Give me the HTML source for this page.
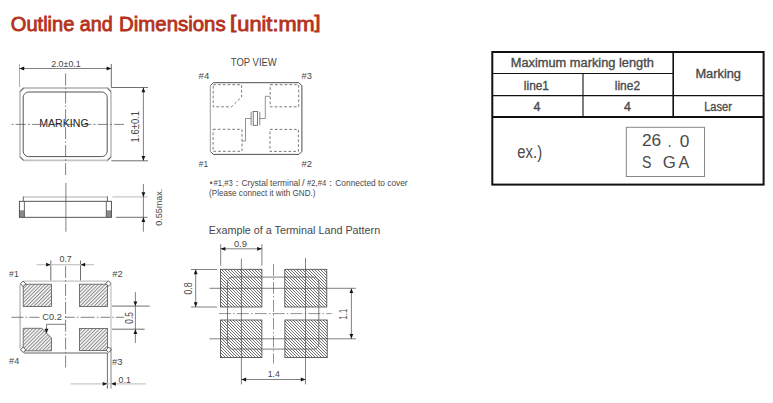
<!DOCTYPE html>
<html><head><meta charset="utf-8"><style>
html,body{margin:0;padding:0;background:#fff;width:773px;height:403px;overflow:hidden}
svg{display:block;font-family:"Liberation Sans", sans-serif}
</style></head><body>
<svg width="773" height="403" viewBox="0 0 773 403">
<defs>
<pattern id="h1" patternUnits="userSpaceOnUse" width="2.5" height="4" patternTransform="rotate(45)">
<rect width="2.5" height="4" fill="#fff"/><line x1="0.6" y1="0" x2="0.6" y2="4" stroke="#555" stroke-width="0.8"/></pattern>
<pattern id="h3" patternUnits="userSpaceOnUse" width="1.4" height="4" patternTransform="rotate(45)">
<rect width="1.4" height="4" fill="#fff"/><line x1="0.5" y1="0" x2="0.5" y2="4" stroke="#444" stroke-width="0.8"/></pattern>
<pattern id="h2" patternUnits="userSpaceOnUse" x="0" y="0" width="3" height="3">
<rect width="3" height="3" fill="#fff"/><rect x="0" y="0" width="1" height="1" fill="#707070"/><rect x="1" y="1" width="1" height="1" fill="#707070"/><rect x="2" y="2" width="1" height="1" fill="#707070"/></pattern>
</defs>
<text x="10.8" y="30.6" font-size="20.8" fill="#b5321c" textLength="63.60" lengthAdjust="spacingAndGlyphs" stroke="#b5321c" stroke-width="0.85">Outline</text>
<text x="79.80000000000001" y="30.6" font-size="20.8" fill="#b5321c" textLength="32.90" lengthAdjust="spacingAndGlyphs" stroke="#b5321c" stroke-width="0.85">and</text>
<text x="119.10000000000001" y="30.6" font-size="20.8" fill="#b5321c" textLength="106.50" lengthAdjust="spacingAndGlyphs" stroke="#b5321c" stroke-width="0.85">Dimensions</text>
<text x="237.3" y="30.6" font-size="20.8" fill="#b5321c" textLength="77.40" lengthAdjust="spacingAndGlyphs" stroke="#b5321c" stroke-width="0.85">unit:mm</text>
<text x="230.0" y="27.6" font-size="18" fill="#b5321c" textLength="6.30" lengthAdjust="spacingAndGlyphs" stroke="#b5321c" stroke-width="0.85">[</text>
<text x="314.40000000000003" y="27.6" font-size="18" fill="#b5321c" textLength="6.00" lengthAdjust="spacingAndGlyphs" stroke="#b5321c" stroke-width="0.85">]</text>
<text x="51.22" y="66.66" font-size="9.80" fill="#484848" textLength="29.55" lengthAdjust="spacingAndGlyphs" >2.0±0.1</text>
<text x="39.21" y="127.48" font-size="11.60" fill="#222" textLength="49.47" lengthAdjust="spacingAndGlyphs" >MARKING</text>
<text x="230.83" y="65.63" font-size="11.60" fill="#484848" textLength="45.92" lengthAdjust="spacingAndGlyphs" >TOP VIEW</text>
<text x="198.62" y="78.53" font-size="9.60" fill="#484848" textLength="10.64" lengthAdjust="spacingAndGlyphs" >#4</text>
<text x="301.57" y="78.72" font-size="9.60" fill="#484848" textLength="10.36" lengthAdjust="spacingAndGlyphs" >#3</text>
<text x="198.83" y="166.73" font-size="9.60" fill="#484848" textLength="9.28" lengthAdjust="spacingAndGlyphs" >#1</text>
<text x="301.49" y="166.51" font-size="9.60" fill="#484848" textLength="10.65" lengthAdjust="spacingAndGlyphs" >#2</text>
<text x="209.75" y="185.60" font-size="8.50" fill="#484848" textLength="2.70" lengthAdjust="spacingAndGlyphs" >•</text>
<text x="213.57" y="185.60" font-size="8.50" fill="#484848" textLength="19.19" lengthAdjust="spacingAndGlyphs" >#1,#3</text>
<text x="235.57" y="185.60" font-size="8.50" fill="#484848" textLength="2.98" lengthAdjust="spacingAndGlyphs" >:</text>
<text x="241.44" y="185.60" font-size="8.50" fill="#484848" textLength="58.78" lengthAdjust="spacingAndGlyphs" >Crystal terminal</text>
<text x="301.94" y="185.60" font-size="8.50" fill="#484848" textLength="2.64" lengthAdjust="spacingAndGlyphs" >/</text>
<text x="307.04" y="185.60" font-size="8.50" fill="#484848" textLength="19.10" lengthAdjust="spacingAndGlyphs" >#2,#4</text>
<text x="329.12" y="185.60" font-size="8.50" fill="#484848" textLength="3.07" lengthAdjust="spacingAndGlyphs" >:</text>
<text x="335.33" y="185.60" font-size="8.50" fill="#484848" textLength="72.32" lengthAdjust="spacingAndGlyphs" >Connected to cover</text>
<text x="209.11" y="196.00" font-size="8.50" fill="#484848" textLength="106.37" lengthAdjust="spacingAndGlyphs" >(Please connect it with GND.)</text>
<text x="208.83" y="233.50" font-size="10.90" fill="#484848" textLength="171.38" lengthAdjust="spacingAndGlyphs" >Example of a Terminal Land Pattern</text>
<text x="233.93" y="246.73" font-size="9.80" fill="#484848" textLength="12.97" lengthAdjust="spacingAndGlyphs" >0.9</text>
<text x="267.77" y="376.60" font-size="9.80" fill="#484848" textLength="12.15" lengthAdjust="spacingAndGlyphs" >1.4</text>
<text x="9.12" y="276.67" font-size="9.60" fill="#484848" textLength="9.58" lengthAdjust="spacingAndGlyphs" >#1</text>
<text x="112.22" y="277.12" font-size="9.60" fill="#484848" textLength="10.38" lengthAdjust="spacingAndGlyphs" >#2</text>
<text x="9.12" y="364.49" font-size="9.60" fill="#484848" textLength="10.06" lengthAdjust="spacingAndGlyphs" >#4</text>
<text x="112.10" y="365.18" font-size="9.60" fill="#484848" textLength="10.45" lengthAdjust="spacingAndGlyphs" >#3</text>
<text x="59.46" y="262.19" font-size="9.80" fill="#484848" textLength="12.35" lengthAdjust="spacingAndGlyphs" >0.7</text>
<text x="42.36" y="320.25" font-size="9.80" fill="#484848" textLength="19.45" lengthAdjust="spacingAndGlyphs" >C0.2</text>
<text x="118.61" y="382.84" font-size="9.80" fill="#484848" textLength="12.16" lengthAdjust="spacingAndGlyphs" >0.1</text>
<text x="0" y="0" font-size="10.00" fill="#484848" text-anchor="middle" textLength="31.40" lengthAdjust="spacingAndGlyphs" transform="translate(138.95,126.72) rotate(-90)" >1.6±0.1</text>
<text x="0" y="0" font-size="9.40" fill="#484848" text-anchor="middle" textLength="37.20" lengthAdjust="spacingAndGlyphs" transform="translate(162.32,207.24) rotate(-90)" >0.55max.</text>
<text x="0" y="0" font-size="10.00" fill="#484848" text-anchor="middle" textLength="11.74" lengthAdjust="spacingAndGlyphs" transform="translate(133.34,317.81) rotate(-90)" >0.5</text>
<text x="0" y="0" font-size="10.20" fill="#484848" text-anchor="middle" textLength="12.25" lengthAdjust="spacingAndGlyphs" transform="translate(191.67,288.46) rotate(-90)" >0.8</text>
<text x="0" y="0" font-size="10.00" fill="#484848" text-anchor="middle" textLength="10.48" lengthAdjust="spacingAndGlyphs" transform="translate(346.61,314.14) rotate(-90)" >1.1</text>
<text x="510.76" y="67.30" font-size="12.50" fill="#4a4a4a" textLength="143.18" lengthAdjust="spacingAndGlyphs" stroke="#4a4a4a" stroke-width="0.35">Maximum marking length</text>
<text x="695.40" y="78.30" font-size="12.50" fill="#4a4a4a" textLength="45.62" lengthAdjust="spacingAndGlyphs" stroke="#4a4a4a" stroke-width="0.35">Marking</text>
<text x="523.87" y="89.60" font-size="12.50" fill="#4a4a4a" textLength="25.14" lengthAdjust="spacingAndGlyphs" stroke="#4a4a4a" stroke-width="0.35">line1</text>
<text x="614.72" y="89.60" font-size="12.50" fill="#4a4a4a" textLength="25.34" lengthAdjust="spacingAndGlyphs" stroke="#4a4a4a" stroke-width="0.35">line2</text>
<text x="533.47" y="111.10" font-size="12.50" fill="#4a4a4a" textLength="6.93" lengthAdjust="spacingAndGlyphs" stroke="#4a4a4a" stroke-width="0.35">4</text>
<text x="624.00" y="111.10" font-size="12.50" fill="#4a4a4a" textLength="6.90" lengthAdjust="spacingAndGlyphs" stroke="#4a4a4a" stroke-width="0.35">4</text>
<text x="704.13" y="111.10" font-size="12.50" fill="#4a4a4a" textLength="27.72" lengthAdjust="spacingAndGlyphs" stroke="#4a4a4a" stroke-width="0.35">Laser</text>
<text x="517.35" y="157.70" font-size="17.50" fill="#4a4a4a" textLength="24.75" lengthAdjust="spacingAndGlyphs" >ex.)</text>
<text x="641.95" y="146.28" font-size="16.60" fill="#4a4a4a" textLength="19.22" lengthAdjust="spacingAndGlyphs" >26</text>
<text x="667.81" y="146.60" font-size="16.60" fill="#4a4a4a" textLength="3.89" lengthAdjust="spacingAndGlyphs" >.</text>
<text x="679.71" y="146.64" font-size="16.60" fill="#4a4a4a" textLength="9.60" lengthAdjust="spacingAndGlyphs" >0</text>
<text x="641.92" y="168.33" font-size="16.60" fill="#4a4a4a" textLength="9.37" lengthAdjust="spacingAndGlyphs" >S</text>
<text x="662.66" y="168.48" font-size="16.60" fill="#4a4a4a" textLength="13.10" lengthAdjust="spacingAndGlyphs" >G</text>
<text x="678.52" y="168.18" font-size="16.60" fill="#4a4a4a" textLength="10.79" lengthAdjust="spacingAndGlyphs" >A</text>
<line x1="19.5" y1="64" x2="19.5" y2="87" stroke="#9a9a9a" stroke-width="0.8" />
<line x1="111.3" y1="64" x2="111.3" y2="87.5" stroke="#4a4a4a" stroke-width="0.8" />
<line x1="19.5" y1="68.5" x2="111.3" y2="68.5" stroke="#4a4a4a" stroke-width="0.7" />
<polygon points="19.5,68.5 24.20,66.60 24.20,70.40" fill="#151515"/>
<polygon points="111.3,68.5 106.60,70.40 106.60,66.60" fill="#151515"/>
<polygon points="23.6,88 107.4,88 111,91.6 111,156.8 107.4,160.4 23.6,160.4 20,156.8 20,91.6" fill="none" stroke="#c4c4c4" stroke-width="1.8" />
<line x1="20" y1="91.6" x2="23.6" y2="88" stroke="#555" stroke-width="1" />
<line x1="107.4" y1="88" x2="111" y2="91.6" stroke="#555" stroke-width="1" />
<line x1="111" y1="156.8" x2="107.4" y2="160.4" stroke="#555" stroke-width="1" />
<line x1="23.6" y1="160.4" x2="20" y2="156.8" stroke="#555" stroke-width="1" />
<rect x="23.2" y="92" width="84" height="64.6" rx="5.5" fill="none" stroke="#555" stroke-width="1"/>
<line x1="65.6" y1="73.5" x2="65.6" y2="175" stroke="#4a4a4a" stroke-width="0.7" stroke-dasharray="12 2.2 1.5 2.2"/>
<line x1="11.5" y1="124.4" x2="124" y2="124.4" stroke="#4a4a4a" stroke-width="0.7" stroke-dasharray="10 2.2 2 2.2" stroke-dashoffset="12.2"/>
<line x1="111.3" y1="87.5" x2="148" y2="87.5" stroke="#4a4a4a" stroke-width="0.8" />
<line x1="111.3" y1="160.8" x2="148" y2="160.8" stroke="#4a4a4a" stroke-width="0.8" />
<line x1="143.4" y1="87.5" x2="143.4" y2="160.8" stroke="#4a4a4a" stroke-width="0.7" />
<polygon points="143.4,87.5 145.30,92.20 141.50,92.20" fill="#151515"/>
<polygon points="143.4,160.8 141.50,156.10 145.30,156.10" fill="#151515"/>
<line x1="23.3" y1="197" x2="107.4" y2="197" stroke="#c8c8c8" stroke-width="1.5" />
<line x1="23.3" y1="196.5" x2="23.3" y2="201.2" stroke="#444" stroke-width="0.8" />
<line x1="107.4" y1="196.5" x2="107.4" y2="201.2" stroke="#444" stroke-width="0.8" />
<rect x="19.4" y="210.3" width="5.0" height="7" fill="#8a8a8a"/>
<rect x="106.3" y="210.3" width="5.1" height="7" fill="#8a8a8a"/>
<rect x="19.4" y="201.3" width="92" height="16" fill="none" stroke="#444" stroke-width="0.9"/>
<line x1="24.4" y1="201.3" x2="24.4" y2="217.3" stroke="#444" stroke-width="0.8" />
<line x1="106.3" y1="201.3" x2="106.3" y2="217.3" stroke="#444" stroke-width="0.8" />
<line x1="65.9" y1="182.8" x2="65.9" y2="231.7" stroke="#4a4a4a" stroke-width="0.7" />
<line x1="112.4" y1="196.9" x2="147.6" y2="196.9" stroke="#c8c8c8" stroke-width="1.4" />
<line x1="115.9" y1="217.3" x2="147.6" y2="217.3" stroke="#4a4a4a" stroke-width="0.8" />
<line x1="143.4" y1="184" x2="143.4" y2="231.7" stroke="#4a4a4a" stroke-width="0.7" />
<polygon points="143.4,196.9 141.50,192.20 145.30,192.20" fill="#151515"/>
<polygon points="143.4,217.3 145.30,222.00 141.50,222.00" fill="#151515"/>
<line x1="23.4" y1="281.1" x2="107.3" y2="281.1" stroke="#c4c4c4" stroke-width="1.4" />
<line x1="20.1" y1="284.4" x2="20.1" y2="348.6" stroke="#b4b4b4" stroke-width="1.3" />
<line x1="111.0" y1="284.5" x2="111.0" y2="347.2" stroke="#c4c4c4" stroke-width="1.3" />
<line x1="23.8" y1="353.0" x2="107.4" y2="353.0" stroke="#555" stroke-width="0.9" />
<rect x="23.2" y="284.2" width="28.3" height="22.3" fill="url(#h1)" stroke="#555" stroke-width="0.8"/>
<rect x="79.4" y="284.2" width="28.2" height="22.2" fill="url(#h1)" stroke="#555" stroke-width="0.8"/>
<rect x="79.5" y="328.4" width="28.0" height="22.1" fill="url(#h1)" stroke="#555" stroke-width="0.8"/>
<polygon points="23.2,328.3 41.9,328.3 51.5,338.0 51.5,350.8 23.2,350.8" fill="url(#h1)" stroke="#555" stroke-width="0.8" />
<polygon points="23.1,281.1 25.8,283.8 23.1,286.5 20.400000000000002,283.8" fill="#fff" stroke="#333" stroke-width="0.8"/>
<polygon points="108.4,280.8 111.10000000000001,283.5 108.4,286.2 105.7,283.5" fill="#fff" stroke="#333" stroke-width="0.8"/>
<polygon points="23.2,347.1 25.9,349.8 23.2,352.5 20.5,349.8" fill="#fff" stroke="#333" stroke-width="0.8"/>
<polygon points="108.7,347.1 111.4,349.8 108.7,352.5 106.0,349.8" fill="#fff" stroke="#333" stroke-width="0.8"/>
<line x1="50.8" y1="260.4" x2="50.8" y2="280.4" stroke="#4a4a4a" stroke-width="0.8" />
<line x1="80.5" y1="260.4" x2="80.5" y2="280.4" stroke="#4a4a4a" stroke-width="0.8" />
<line x1="36.6" y1="264.7" x2="94" y2="264.7" stroke="#c8c8c8" stroke-width="1.3" />
<polygon points="50.8,264.7 46.10,266.60 46.10,262.80" fill="#151515"/>
<polygon points="80.5,264.7 85.20,262.80 85.20,266.60" fill="#151515"/>
<line x1="65.6" y1="266" x2="65.6" y2="368" stroke="#4a4a4a" stroke-width="0.7" stroke-dasharray="12 2.2 1.5 2.2"/>
<line x1="11.5" y1="317.3" x2="39.5" y2="317.3" stroke="#4a4a4a" stroke-width="0.7" stroke-dasharray="12 2.2 1.5 2.2"/>
<line x1="65.2" y1="317.3" x2="124" y2="317.3" stroke="#4a4a4a" stroke-width="0.7" stroke-dasharray="9.5 2.2 1.5 2.2 14 2.2 1.5 2.2"/>
<polyline points="65.1,324.3 46.5,324.3 46.5,330" fill="none" stroke="#4a4a4a" stroke-width="0.7" />
<polygon points="46.5,333.5 44.60,328.80 48.40,328.80" fill="#151515"/>
<line x1="112" y1="306.1" x2="149.6" y2="306.1" stroke="#4a4a4a" stroke-width="0.8" />
<line x1="112" y1="329.2" x2="144.7" y2="329.2" stroke="#4a4a4a" stroke-width="0.8" />
<line x1="135.4" y1="292.2" x2="135.4" y2="342.9" stroke="#4a4a4a" stroke-width="0.7" />
<polygon points="135.4,306.1 133.50,301.40 137.30,301.40" fill="#151515"/>
<polygon points="135.4,329.2 137.30,333.90 133.50,333.90" fill="#151515"/>
<line x1="107.4" y1="353" x2="107.4" y2="388.6" stroke="#4a4a4a" stroke-width="0.8" />
<line x1="111.0" y1="347" x2="111.0" y2="388.6" stroke="#666" stroke-width="0.8" />
<line x1="70.7" y1="383.8" x2="145.8" y2="383.8" stroke="#c8c8c8" stroke-width="1.3" />
<polygon points="107.4,383.8 102.70,385.70 102.70,381.90" fill="#151515"/>
<polygon points="111.1,383.8 115.80,381.90 115.80,385.70" fill="#151515"/>
<polyline points="210.3,151.4 213.3,154.4 298.9,154.4 301.9,151.4 301.9,85.7 298.9,82.7 213.3,82.7 210.3,85.7" fill="none" stroke="#3a3a3a" stroke-width="0.9" />
<line x1="210.3" y1="85.7" x2="210.3" y2="151.4" stroke="#9a9a9a" stroke-width="1.0" />
<polygon points="213.2,84.7 241.6,84.7 241.6,97 231.5,106.8 213.2,106.8" fill="none" stroke="#555" stroke-width="0.8" stroke-dasharray="2.7 2.1"/>
<rect x="270.2" y="84.7" width="28.5" height="22.1" fill="none" stroke="#555" stroke-width="0.8" stroke-dasharray="2.7 2.1"/>
<rect x="213.1" y="129.3" width="28.9" height="22" fill="none" stroke="#555" stroke-width="0.8" stroke-dasharray="2.7 2.1"/>
<rect x="270" y="129.4" width="28.4" height="22" fill="none" stroke="#555" stroke-width="0.8" stroke-dasharray="2.7 2.1"/>
<line x1="251.1" y1="111.7" x2="251.1" y2="125.3" stroke="#777" stroke-width="0.9" />
<rect x="253.2" y="111.4" width="4.3" height="13.9" fill="none" stroke="#555" stroke-width="0.8"/>
<line x1="259.8" y1="111.7" x2="259.8" y2="125.3" stroke="#777" stroke-width="0.9" />
<polyline points="251.1,118.5 245.5,118.5 245.5,141 242,141" fill="none" stroke="#777" stroke-width="0.8" />
<polyline points="259.8,118.5 265.3,118.5 265.3,96.3 270.2,96.3" fill="none" stroke="#777" stroke-width="0.8" />
<rect x="220.5" y="269.3" width="41.4" height="37.7" fill="url(#h2)" stroke="#444" stroke-width="0.8"/>
<rect x="284.8" y="269.3" width="42" height="37.7" fill="url(#h2)" stroke="#444" stroke-width="0.8"/>
<rect x="220.4" y="320" width="41.5" height="37.6" fill="url(#h2)" stroke="#444" stroke-width="0.8"/>
<rect x="284.9" y="320" width="42.3" height="37.6" fill="url(#h2)" stroke="#444" stroke-width="0.8"/>
<rect x="227.5" y="277.1" width="91.3" height="72" rx="5" fill="none" stroke="#666" stroke-width="0.85"/>
<line x1="241.4" y1="258.7" x2="241.4" y2="384.4" stroke="#4a4a4a" stroke-width="0.7" />
<line x1="305.5" y1="258" x2="305.5" y2="384.4" stroke="#4a4a4a" stroke-width="0.7" />
<line x1="209.5" y1="288.3" x2="355.9" y2="288.3" stroke="#4a4a4a" stroke-width="0.7" />
<line x1="209.5" y1="338.8" x2="355.9" y2="338.8" stroke="#4a4a4a" stroke-width="0.7" />
<line x1="218.9" y1="313.6" x2="331.5" y2="313.6" stroke="#4a4a4a" stroke-width="0.6" stroke-dasharray="12 2.2 1.5 2.2"/>
<line x1="273.5" y1="264" x2="273.5" y2="363.6" stroke="#4a4a4a" stroke-width="0.6" stroke-dasharray="12 2.2 1.5 2.2"/>
<line x1="220.7" y1="244.2" x2="220.7" y2="265.7" stroke="#4a4a4a" stroke-width="0.7" />
<line x1="261.9" y1="244.2" x2="261.9" y2="265.7" stroke="#4a4a4a" stroke-width="0.7" />
<line x1="220.7" y1="248.8" x2="261.9" y2="248.8" stroke="#4a4a4a" stroke-width="0.7" />
<polygon points="220.7,248.8 225.40,246.90 225.40,250.70" fill="#151515"/>
<polygon points="261.9,248.8 257.20,250.70 257.20,246.90" fill="#151515"/>
<line x1="190.9" y1="269.5" x2="216.9" y2="269.5" stroke="#4a4a4a" stroke-width="0.7" />
<line x1="190.9" y1="307" x2="216.9" y2="307" stroke="#4a4a4a" stroke-width="0.7" />
<line x1="195.7" y1="269.5" x2="195.7" y2="307" stroke="#4a4a4a" stroke-width="0.7" />
<polygon points="195.7,269.5 197.60,274.20 193.80,274.20" fill="#151515"/>
<polygon points="195.7,307 193.80,302.30 197.60,302.30" fill="#151515"/>
<line x1="351.4" y1="288.4" x2="351.4" y2="338.8" stroke="#4a4a4a" stroke-width="0.7" />
<polygon points="351.4,288.4 353.30,293.10 349.50,293.10" fill="#151515"/>
<polygon points="351.4,338.8 349.50,334.10 353.30,334.10" fill="#151515"/>
<line x1="241.4" y1="379.5" x2="305.5" y2="379.5" stroke="#4a4a4a" stroke-width="0.7" />
<polygon points="241.4,379.5 246.10,377.60 246.10,381.40" fill="#151515"/>
<polygon points="305.5,379.5 300.80,381.40 300.80,377.60" fill="#151515"/>
<rect x="492.3" y="52" width="271.3" height="132.6" fill="none" stroke="#111" stroke-width="2"/>
<line x1="492.3" y1="73.5" x2="673.2" y2="73.5" stroke="#111" stroke-width="1.1" />
<line x1="492.3" y1="95.6" x2="763.6" y2="95.6" stroke="#111" stroke-width="1.1" />
<line x1="492.3" y1="117.0" x2="763.6" y2="117.0" stroke="#111" stroke-width="2" />
<line x1="583" y1="73.5" x2="583" y2="117" stroke="#111" stroke-width="1.1" />
<line x1="673.2" y1="52" x2="673.2" y2="117" stroke="#111" stroke-width="1.6" />
<rect x="626.3" y="127.3" width="78.2" height="49.2" fill="none" stroke="#888" stroke-width="1"/>
</svg>
</body></html>
